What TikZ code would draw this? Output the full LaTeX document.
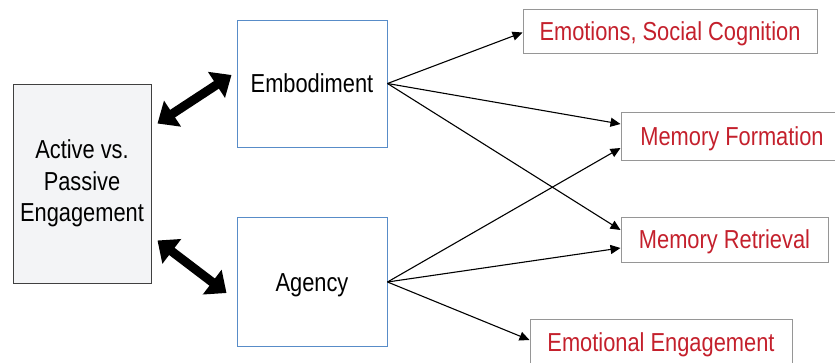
\documentclass[tikz,border=0pt]{standalone}
\usepackage{fontspec}
\setmainfont{Liberation Sans}[FakeStretch=0.84]
\usetikzlibrary{arrows.meta}
\definecolor{boxblue}{RGB}{88,140,200}
\definecolor{boxgray}{RGB}{150,150,150}
\definecolor{outred}{RGB}{196,32,44}
\definecolor{leftfill}{RGB}{243,244,246}
\tikzset{
  lbl/.style={font=\fontsize{26}{31.5}\selectfont, align=center, inner sep=0pt},
  oneline/.style={text height=18.6pt, text depth=0pt},
  mainbox/.style={lbl, draw=black!75, fill=leftfill, line width=1pt},
  midbox/.style={lbl, oneline, draw=boxblue, line width=1pt},
  outbox/.style={lbl, oneline, draw=boxgray, line width=1pt, text=outred},
  link/.style={line width=1.1pt, -{Triangle[length=10pt,width=9pt]}},
  bilink/.style={line width=9pt, {Triangle[length=18pt,width=30pt]}-{Triangle[length=18pt,width=30pt]}}
}
\begin{document}
\begin{tikzpicture}[x=1pt,y=-1pt]
\useasboundingbox (0,0) rectangle (835,362);

% left source box
\node[mainbox, minimum width=138pt, minimum height=199pt] (act) at (82,183.5)
  {Active vs.\\Passive\\Engagement};

% middle factors
\node[midbox, minimum width=150pt, minimum height=127pt] (emb) at (312,83.5) {Embodiment};
\node[midbox, minimum width=150pt, minimum height=129pt] (agc) at (312,282) {Agency};

% outcomes
\node[outbox, minimum width=294pt, minimum height=44pt] (emo) at (670,31.5) {Emotions, Social Cognition};
\node[outbox, minimum width=222pt, minimum height=48pt] (mform) at (732,136) {Memory Formation};
\node[outbox, minimum width=207pt, minimum height=45pt] (mret) at (724.5,239.5) {Memory Retrieval};
\node[outbox, minimum width=262pt, minimum height=46pt] (emeng) at (661,342) {Emotional Engagement};

% two-way links
\draw[bilink] ([xshift=6pt,yshift=-40pt]act.north east) -- ([xshift=-5pt,yshift=8.5pt]emb.west);
\draw[bilink] ([xshift=6pt,yshift=43pt]act.south east) -- ([xshift=-10pt,yshift=-11pt]agc.west);

% effects of embodiment
\draw[link] (emb.east) -- ([yshift=-1pt]emo.west);
\draw[link] (emb.east) -- ([yshift=12pt]mform.west);
\draw[link] (emb.east) -- ([yshift=9.5pt]mret.west);

% effects of agency
\draw[link] (agc.east) -- ([yshift=-12pt]mform.west);
\draw[link] (agc.east) -- ([yshift=-8.5pt]mret.west);
\draw[link] (agc.east) -- ([yshift=2pt]emeng.west);
\end{tikzpicture}
\end{document}
